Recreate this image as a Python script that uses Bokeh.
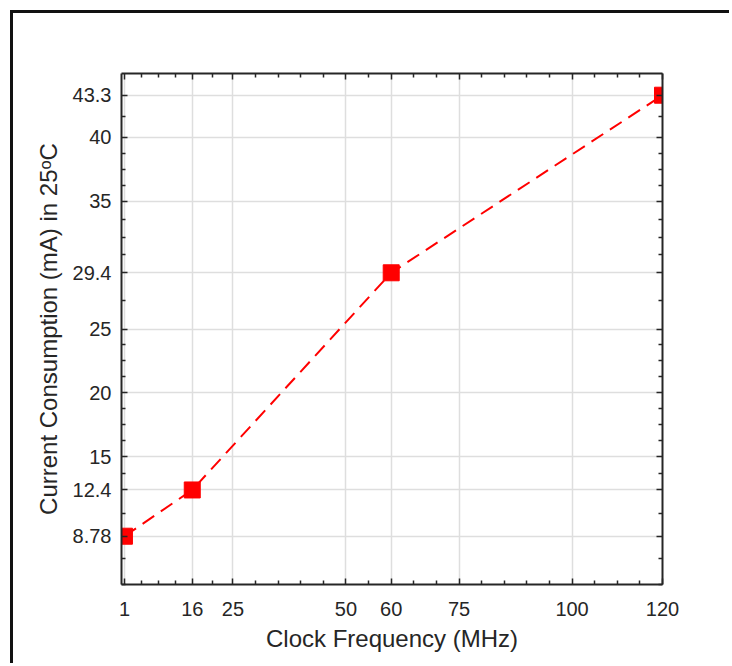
from bokeh.plotting import figure
from bokeh.models import FixedTicker, LinearAxis, Range1d
from bokeh.embed import file_html
from bokeh.resources import INLINE

# Data
freq = [1, 16, 60, 120]
current = [8.78, 12.4, 29.4, 43.3]

x_ticks = [1, 16, 25, 50, 60, 75, 100, 120]
y_ticks = [8.78, 12.4, 15, 20, 25, 29.4, 35, 40, 43.3]
x_minor = [4.75, 8.5, 12.25, 20.5, 30, 35, 40, 45, 55, 65, 70, 80, 85, 90, 95, 105, 110, 115]
y_minor = [5, 7, 10.59, 13.7, 16.25, 17.5, 18.75, 21.25, 22.5, 23.75, 27.2,
           30.8, 32.2, 33.6, 36.25, 37.5, 38.75, 41.65]

FONT = "Liberation Sans"
DARK = "#262626"

p = figure(width=719, height=653, output_backend="svg", toolbar_location=None,
           x_range=Range1d(0.35, 120), y_range=Range1d(5, 45),
           min_border_left=108, min_border_top=60, min_border_right=70, min_border_bottom=82,
           background_fill_color="white", border_fill_color="white")
p.styles = {"margin-left": "10px", "margin-top": "10px",
            "border-left": "3px solid #111111", "border-top": "3px solid #111111"}
p.outline_line_color = None

bottom = p.below[0]
left = p.left[0]

xt = FixedTicker(ticks=x_ticks, minor_ticks=x_minor)
yt = FixedTicker(ticks=y_ticks, minor_ticks=y_minor)

bottom.ticker = xt
left.ticker = yt
bottom.major_label_overrides = {v: f"{v:g}" for v in x_ticks}
left.major_label_overrides = {v: f"{v:g}" for v in y_ticks}

top = LinearAxis(ticker=xt)
right = LinearAxis(ticker=yt)
top.major_label_overrides = {v: "" for v in x_ticks}
right.major_label_overrides = {v: "" for v in y_ticks}
top.major_label_standoff = 0
right.major_label_standoff = 0
p.add_layout(top, "above")
p.add_layout(right, "right")

for ax in [bottom, left, top, right]:
    ax.axis_line_color = DARK
    ax.axis_line_width = 2
    ax.major_tick_line_color = DARK
    ax.minor_tick_line_color = DARK
    ax.major_tick_line_width = 1.5
    ax.minor_tick_line_width = 1.5
    ax.major_tick_in = 6
    ax.major_tick_out = 0
    ax.minor_tick_in = 4
    ax.minor_tick_out = 0
    ax.major_label_text_font = FONT
    ax.major_label_text_color = DARK
    ax.axis_label_text_font = FONT
    ax.axis_label_text_color = DARK
    ax.axis_label_text_font_style = "normal"

bottom.major_label_text_font_size = "20px"
left.major_label_text_font_size = "20px"
bottom.axis_label = "Clock Frequency (MHz)"
left.axis_label = "Current Consumption (mA) in 25\u1d52C"
bottom.axis_label_text_font_size = "24px"
left.axis_label_text_font_size = "24px"
bottom.major_label_standoff = 17
left.major_label_standoff = 10
bottom.axis_label_standoff = 6
left.axis_label_standoff = 8

p.xgrid.ticker = xt
p.ygrid.ticker = yt
p.grid.grid_line_color = "#dedede"
p.grid.grid_line_width = 1.5

p.line(freq, current, line_color="#ff0000", line_width=2, line_dash="14 8")
p.scatter(freq, current, marker="square", size=16, fill_color="#ff0000", line_color="#ff0000")

open("out.html", "w").write(file_html(p, INLINE))
